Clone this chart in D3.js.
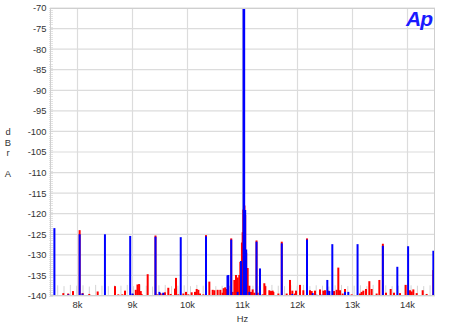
<!DOCTYPE html>
<html>
<head>
<meta charset="utf-8">
<script src="https://cdn.jsdelivr.net/npm/d3@7"></script>
<style>
  body { margin: 0; background: #fff; }
  svg { display: block; font-family: "Liberation Sans", Arial, sans-serif; }
</style>
</head>
<body>
<div id="chart"></div>
<script>
// J-test style spectrum, frequency in Hz, level in dBr A
var xDomain = [7500, 14500];
var yDomain = [-140, -70];
var xTicks = [8000, 9000, 10000, 11000, 12000, 13000, 14000];
var xTickLabels = ["8k", "9k", "10k", "11k", "12k", "13k", "14k"];
var yTicks = [-70, -75, -80, -85, -90, -95, -100, -105, -110, -115, -120, -125, -130, -135, -140];
var yTitle = ["d", "B", "r", "", "A"];

// light gray trace, barely above the floor
var grayFreq = [7640, 7755, 7870, 7985, 8100, 8215, 8330, 8445, 8560, 8675, 8790, 8905, 9020, 9135,
  9250, 9365, 9480, 9595, 9710, 9825, 9940, 10055, 10170, 10285, 10400, 10515, 10630, 10745,
  10860, 11190, 11305, 11420, 11535, 11650, 11765, 11880, 11995, 12110, 12225, 12340, 12455,
  12570, 12685, 12800, 12915, 13030, 13145, 13260, 13375, 13490, 13605, 13720, 13835, 13950,
  14065, 14180, 14295, 14410];
var grayLevel = [-137.4, -137.6, -137.3, -137.5, -137.4, -137.7, -137.3, -137.5, -137.6, -137.4,
  -137.5, -137.3, -137.6, -137.4, -137.5, -137.7, -137.4, -137.3, -137.6, -137.5, -137.4, -137.6,
  -137.3, -137.5, -137.4, -137.6, -137.5, -137.3, -137.4, -137.5, -137.6, -137.4, -137.3, -137.5,
  -137.6, -137.4, -137.5, -137.3, -137.6, -137.4, -137.5, -137.7, -137.4, -137.3, -137.6, -137.5,
  -137.4, -137.6, -137.3, -137.5, -137.4, -137.6, -137.5, -137.3, -137.4, -137.5, -137.6, -137.4];

var redFreq = [7742, 7830, 7918, 8039, 8094, 8214, 8367, 8682, 8742, 8815, 8864, 9004, 9060, 9091,
  9120, 9150, 9165, 9276, 9418, 9451, 9500, 9541, 9590, 9651, 9694, 9773, 9791, 9833, 9924, 9973,
  10015, 10076, 10136, 10167, 10197, 10227, 10288, 10336, 10397, 10458, 10488, 10548, 10597, 10639,
  10658, 10685, 10700, 10742, 10795, 10821, 10852, 10882, 10912, 10942, 10961, 10990, 11003, 11015,
  11035, 11049, 11067, 11094, 11124, 11155, 11185, 11215, 11255, 11276, 11318, 11367, 11397, 11415,
  11488, 11518, 11548, 11561, 11652, 11714, 11803, 11864, 11906, 11955, 11973, 12045, 12106, 12173,
  12227, 12258, 12318, 12409, 12470, 12500, 12561, 12664, 12712, 12742, 12773, 12821, 12864, 12985,
  13136, 13167, 13197, 13245, 13306, 13348, 13439, 13488, 13552, 13609, 13694, 13755, 13864, 13967,
  14045, 14076, 14106, 14167, 14276, 14348, 14470];
var redLevel = [-139.3, -139.4, -138.8, -124.0, -139.3, -139.5, -138.9, -137.6, -139.6, -139.6,
  -138.7, -139.5, -138.5, -137.2, -137.1, -138.8, -139.5, -134.7, -125.3, -139.6, -139.3, -139.4,
  -139.1, -138.0, -139.5, -138.2, -135.6, -139.6, -139.4, -139.0, -139.6, -139.1, -139.0, -138.3,
  -138.5, -139.4, -139.6, -125.2, -136.5, -138.5, -138.6, -138.5, -138.5, -139.2, -138.1, -137.9,
  -138.3, -137.5, -126.0, -139.0, -136.1, -134.9, -135.5, -134.9, -131.7, -127.0, -124.5, -119.0,
  -118.0, -120.3, -129.5, -133.2, -137.5, -139.0, -138.4, -139.2, -126.5, -139.2, -138.5, -139.6,
  -136.9, -137.6, -138.6, -138.8, -138.7, -139.0, -139.4, -126.8, -139.4, -136.1, -138.7, -139.4,
  -138.7, -137.3, -138.6, -126.0, -138.6, -138.8, -138.7, -138.4, -138.7, -138.6, -138.7, -138.8,
  -138.5, -133.1, -138.6, -139.4, -138.3, -139.6, -139.4, -139.0, -138.7, -138.3, -136.4, -138.3,
  -139.4, -136.1, -127.3, -139.2, -138.3, -139.2, -139.3, -137.3, -138.6, -138.9, -138.4, -139.3,
  -138.6, -139.5, -133.7];

var blueFreq = [7580, 7835, 8039, 8090, 8499, 8958, 9000, 9418, 9490, 9560, 9877, 10336, 10727,
  10742, 10795, 10912, 10973, 11025, 11049, 11067, 11124, 11255, 11318, 11714, 11906, 12173, 12276,
  12348, 12439, 12542, 12579, 12633, 12864, 12924, 13092, 13552, 13815, 14011, 14470];
var blueLevel = [-123.5, -139.6, -125.0, -139.4, -125.0, -125.4, -139.4, -125.6, -139.0, -139.2,
  -125.7, -125.5, -135.0, -134.9, -126.3, -139.0, -131.5, -60.0, -119.1, -128.7, -139.0, -126.8,
  -133.3, -127.2, -139.5, -126.3, -139.3, -139.7, -139.7, -136.1, -138.8, -127.4, -139.0, -139.0,
  -127.4, -127.8, -132.9, -127.9, -129.0];

var width = 450, height = 333;
var margin = { left: 50, right: 15, top: 8, bottom: 37 };
var fontSize = 9.4, textColour = "#333";

var svg = d3.select("#chart").append("svg")
  .attr("width", width)
  .attr("height", height);

var x = d3.scaleLinear().domain(xDomain).range([margin.left, width - margin.right]);
var y = d3.scaleLinear().domain(yDomain).range([height - margin.bottom, margin.top]);

svg.append("clipPath").attr("id", "plot-clip")
  .append("rect")
  .attr("x", margin.left).attr("y", margin.top)
  .attr("width", x.range()[1] - margin.left)
  .attr("height", y.range()[0] - margin.top);

// grid
svg.append("g").selectAll("line")
  .data(yTicks).enter().append("line")
  .attr("x1", margin.left).attr("x2", x.range()[1])
  .attr("y1", d => y(d)).attr("y2", d => y(d))
  .attr("stroke", "#dcdcdc").attr("stroke-width", 1.2);

svg.append("g").selectAll("line")
  .data(xTicks).enter().append("line")
  .attr("x1", d => x(d)).attr("x2", d => x(d))
  .attr("y1", margin.top).attr("y2", y.range()[0])
  .attr("stroke", "#dcdcdc").attr("stroke-width", 1.2);

// minor ticks on the left edge
var minor = d3.range(-140, -69.9, 0.5);
svg.append("g").selectAll("line")
  .data(minor).enter().append("line")
  .attr("x1", margin.left - 1).attr("x2", margin.left + 3)
  .attr("y1", d => Math.round(y(d)) + 0.5).attr("y2", d => Math.round(y(d)) + 0.5)
  .attr("stroke", "#d0d0d0").attr("stroke-width", 0.6);

var plot = svg.append("g").attr("clip-path", "url(#plot-clip)");

var spikes = function (freqs, levels, colour, w) {
  plot.append("g").selectAll("line")
    .data(freqs.map((f, i) => [f, levels[i]]))
    .enter().append("line")
    .attr("x1", d => x(d[0])).attr("x2", d => x(d[0]))
    .attr("y1", y(-140)).attr("y2", d => y(d[1]))
    .attr("stroke", colour)
    .attr("stroke-width", d => d[1] > -100 ? 2.6 : w);
};

spikes(grayFreq, grayLevel, "#d4d4d4", 1);
spikes(redFreq, redLevel, "#ff0000", 2);
spikes(blueFreq, blueLevel, "#0000ff", 2);

// frame
svg.append("rect")
  .attr("x", margin.left + 0.5).attr("y", margin.top + 0.5)
  .attr("width", x.range()[1] - margin.left - 1)
  .attr("height", y.range()[0] - margin.top - 1)
  .attr("fill", "none").attr("stroke", "#cfcfcf");

// tick labels
svg.append("g").selectAll("text")
  .data(yTicks).enter().append("text")
  .attr("x", margin.left - 3.5).attr("y", d => y(d) + 3.4)
  .attr("text-anchor", "end")
  .attr("font-size", fontSize).attr("fill", textColour)
  .text(d => d);

svg.append("g").selectAll("text")
  .data(xTicks).enter().append("text")
  .attr("x", d => x(d)).attr("y", y(-140) + 12)
  .attr("text-anchor", "middle")
  .attr("font-size", fontSize).attr("fill", textColour)
  .text((d, i) => xTickLabels[i]);

svg.append("text")
  .attr("x", x(11000)).attr("y", 322)
  .attr("text-anchor", "middle")
  .attr("font-size", fontSize).attr("fill", textColour)
  .text("Hz");

svg.append("g").selectAll("text")
  .data(yTitle).enter().append("text")
  .attr("x", 8).attr("y", (d, i) => 135 + i * 10.5)
  .attr("text-anchor", "middle")
  .attr("font-size", fontSize).attr("fill", textColour)
  .text(d => d);

// Ap logo
svg.append("text")
  .attr("x", 406).attr("y", 26)
  .attr("font-size", 21).attr("font-weight", "bold").attr("font-style", "italic")
  .attr("fill", "#1a1aff")
  .attr("letter-spacing", -1)
  .text("Ap");
</script>
</body>
</html>
